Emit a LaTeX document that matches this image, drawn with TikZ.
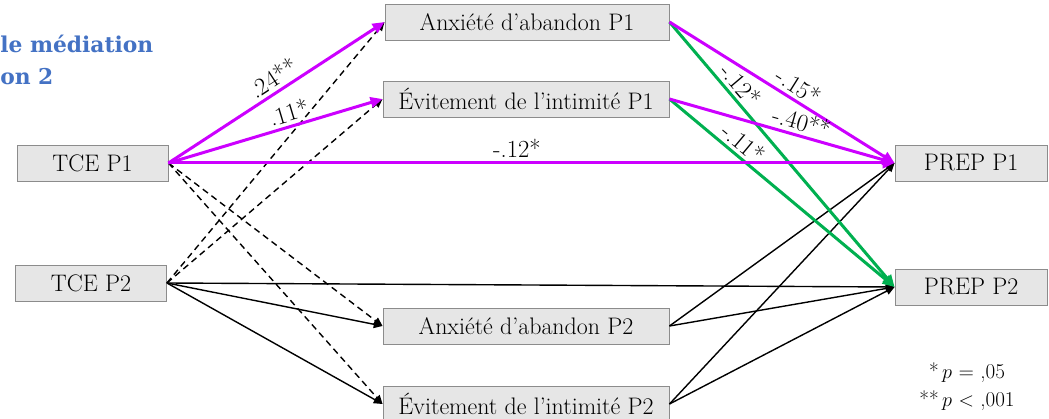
\documentclass[tikz,border=0pt]{standalone}
\usepackage{fontspec}
\usepackage{tikz}
\usetikzlibrary{arrows.meta}
\newfontfamily\titrefont{DejaVu Serif}
\definecolor{mauve}{RGB}{204,0,255}
\definecolor{vert}{RGB}{0,176,80}
\definecolor{bleutitre}{RGB}{68,114,196}
\definecolor{cadre}{RGB}{140,140,140}
\definecolor{fond}{RGB}{230,230,230}
\tikzset{
	boite/.style={draw=cadre, fill=fond, line width=0.6pt, inner sep=0pt, minimum height=0.9cm, font=\fontsize{17}{20}\selectfont},
	lien/.style={line width=0.35mm, -{Triangle[length=2.2mm,width=1.9mm]}},
	tirets/.style={lien, dash pattern=on 1.6mm off 1.1mm},
	fort/.style={line width=0.75mm, -{Triangle[length=3mm,width=2.6mm]}},
	coef/.style={font=\fontsize{17.5}{20}\selectfont, sloped, above, inner sep=2.5pt},
}

\begin{document}
\begin{tikzpicture}[x=0.025cm, y=-0.025cm]
			%%%%% START %%%%%
			\useasboundingbox (0, 0) rectangle (1049, 419);
			
			\node[anchor=base west, inner sep=0pt, text=bleutitre, font=\titrefont\fontsize{15.5}{18}\bfseries\selectfont] (titre1) at (0, 53) {le médiation};
			\node[anchor=base west, inner sep=0pt, text=bleutitre, font=\titrefont\fontsize{15.5}{18}\bfseries\selectfont] (titre2) at (0, 85) {on 2};
			
			\node[boite, minimum width=3.775cm] (tce1) at (92.5, 163) {TCE P1};
			\node[boite, minimum width=3.775cm] (tce2) at (91, 283) {TCE P2};
			\node[boite, minimum width=7.1cm] (anx1) at (527, 22) {Anxiété d’abandon P1};
			\node[boite, minimum width=7.15cm] (evi1) at (526, 99) {Évitement de l’intimité P1};
			\node[boite, minimum width=7.15cm] (anx2) at (526, 326) {Anxiété d’abandon P2};
			\node[boite, minimum width=7.15cm] (evi2) at (526, 404) {Évitement de l’intimité P2};
			\node[boite, minimum width=3.8cm] (prep1) at (971, 163) {PREP P1};
			\node[boite, minimum width=3.8cm] (prep2) at (971, 287) {PREP P2};
			
			\draw[tirets] (tce1.east) -- (anx2.west);
			\draw[tirets] (tce1.east) -- (evi2.west);
			\draw[tirets] (tce2.east) -- (anx1.west);
			\draw[tirets] (tce2.east) -- (evi1.west);
			
			\draw[lien] (tce2.east) -- (prep2.west);
			\draw[lien] (tce2.east) -- (anx2.west);
			\draw[lien] (tce2.east) -- (evi2.west);
			\draw[lien] (anx2.east) -- (prep1.west);
			\draw[lien] (anx2.east) -- (prep2.west);
			\draw[lien] (evi2.east) -- (prep1.west);
			\draw[lien] (evi2.east) -- (prep2.west);
			
			\draw[fort, vert] (anx1.east) -- node[coef, pos=0.27, text=black] {-.12*} (prep2.west);
			\draw[fort, vert] (evi1.east) -- node[coef, pos=0.29, text=black] {-.11*} (prep2.west);
			
			\draw[fort, mauve] (tce1.east) -- node[coef, pos=0.52, text=black] {.24**} (anx1.west);
			\draw[fort, mauve] (tce1.east) -- node[coef, pos=0.58, text=black] {.11*} (evi1.west);
			\draw[fort, mauve] (tce1.east) -- node[coef, pos=0.48, text=black] {-.12*} (prep1.west);
			\draw[fort, mauve] (anx1.east) -- node[coef, pos=0.54, text=black] {-.15*} (prep1.west);
			\draw[fort, mauve] (evi1.east) -- node[coef, pos=0.57, text=black] {-.40**} (prep1.west);
			
			\node[align=center, font=\fontsize{15}{20}\selectfont] (seuils) at (967, 387) {*\,$p$ $=$ ,05\\**\,$p$ $<$ ,001};
			
			%%%%% END %%%%%
		\end{tikzpicture}
\end{document}
